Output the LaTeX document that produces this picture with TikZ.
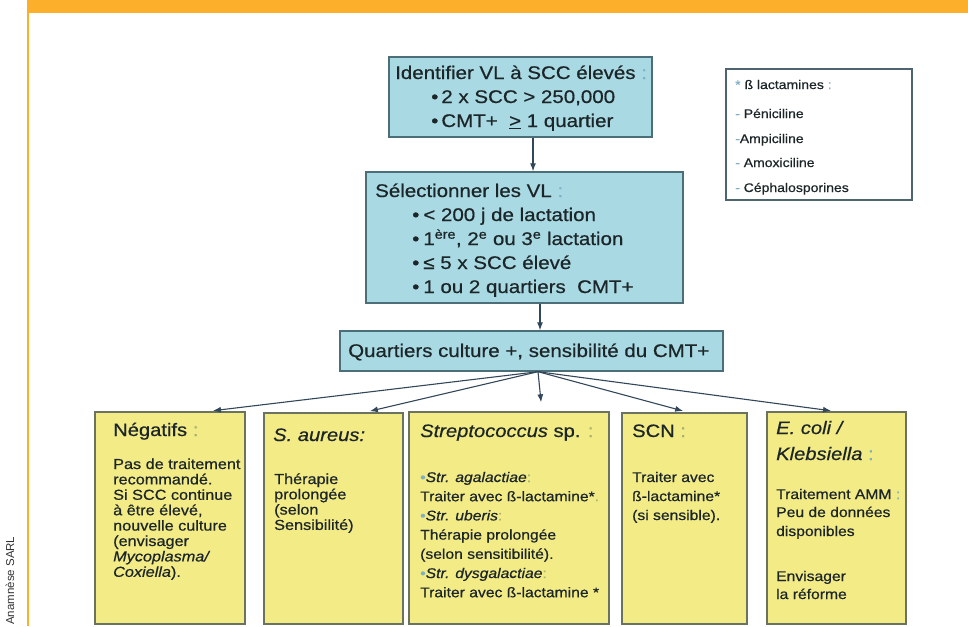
\documentclass[tikz,border=0pt]{standalone}
\usepackage{fontspec}
\setmainfont{Liberation Sans}[FakeStretch=1.12,FakeBold=0.6]
\newfontfamily\creditfont{Liberation Sans}
\usetikzlibrary{arrows.meta}
\definecolor{banner}{HTML}{FBAF2A}
\definecolor{bluefill}{HTML}{A9D9E3}
\definecolor{bluebd}{HTML}{4C6E78}
\definecolor{yelfill}{HTML}{F3EB86}
\definecolor{yelbd}{HTML}{6A7260}
\definecolor{sidebd}{HTML}{4E6470}
\definecolor{ink}{HTML}{1C2628}
\definecolor{lightb}{HTML}{7FAFC4}
\definecolor{lighty}{HTML}{A8B070}
\definecolor{arrc}{HTML}{33475A}
\definecolor{creditc}{HTML}{333333}
\newcommand\mkbox[6]{%
  \pgfmathsetmacro\bw{#5-#3}\pgfmathsetmacro\bh{#6-#4}%
  \pgfmathsetmacro\bx{(#3+#5)/2}\pgfmathsetmacro\by{(#4+#6)/2}%
  \node[#2, minimum width=\bw pt, minimum height=\bh pt, inner sep=0pt] (#1) at (\bx,\by) {};}
\newcommand\stack[6]{%
  \foreach \txt [count=\i] in {#6}{%
    \pgfmathsetmacro\yy{#4+(\i-1)*(#5)}%
    \node[#2, anchor=base west] (#1\i) at (#3,\yy) {\txt};}}
\begin{document}
\begin{tikzpicture}[x=1pt,y=-1pt,
  bluebox/.style={draw=bluebd, fill=bluefill, line width=1.4pt},
  yelbox/.style={draw=yelbd, fill=yelfill, line width=1.4pt},
  sidebox/.style={draw=sidebd, fill=white, line width=1.4pt},
  arr/.style={draw=arrc, line width=1.1pt, -{Latex[length=8pt,width=6pt]}},
  big/.style={inner sep=0pt, text=ink, font=\fontsize{18.3}{22}\selectfont},
  head/.style={inner sep=0pt, text=ink, font=\fontsize{18}{22}\selectfont},
  body/.style={inner sep=0pt, text=ink, font=\fontsize{14}{17}\selectfont},
  bodyb/.style={inner sep=0pt, text=ink, font=\fontsize{14.5}{17}\selectfont},
  small/.style={inner sep=0pt, text=ink, font=\fontsize{12.5}{14}\selectfont},
]
\useasboundingbox (0,0) rectangle (968,626);
\fill[banner] (28,0) rectangle (968,13);
\draw[banner, line width=1.5pt] (28,0) -- (28,626);

\node[rotate=90, anchor=base west, inner sep=0pt, text=creditc,
  font=\creditfont\fontsize{11.5}{13}\selectfont] (credit) at (14,625) {Anamnèse SARL};

% boxes
\mkbox{top}{bluebox}{389}{57}{652}{137}
\mkbox{sel}{bluebox}{366}{172}{683}{303}
\mkbox{quart}{bluebox}{340}{331}{723}{371}
\mkbox{side}{sidebox}{726}{69}{912}{200}
\mkbox{b1}{yelbox}{95}{412}{245}{624}
\mkbox{b2}{yelbox}{264}{413}{403}{624}
\mkbox{b3}{yelbox}{409}{412}{609}{624}
\mkbox{b4}{yelbox}{622}{413}{747}{624}
\mkbox{b5}{yelbox}{767}{412}{906}{624}

% top box text
\node[big, anchor=base west] (t1) at (395,79) {Identifier VL à SCC élevés {\color{lightb}:}};
\node[big, anchor=base west] (t2) at (431,103) {•\hspace{3pt}2 x SCC > 250,000};
\node[big, anchor=base west] (t3) at (431,127) {•\hspace{3pt}CMT+\ \ \underline{>} 1 quartier};

% selection box text
\node[big, anchor=base west] (s1) at (375,197) {Sélectionner les VL {\color{lightb}:}};
\node[big, anchor=base west] (s2) at (412,221) {•\hspace{4pt}< 200 j de lactation};
\node[big, anchor=base west] (s3) at (412,245) {•\hspace{4pt}1\textsuperscript{ère}, 2\textsuperscript{e} ou 3\textsuperscript{e} lactation};
\node[big, anchor=base west] (s4) at (412,269) {•\hspace{4pt}≤ 5 x SCC élevé};
\node[big, anchor=base west] (s5) at (412,293) {•\hspace{4pt}1 ou 2 quartiers\ \ CMT+};

% quartiers box
\node[big, anchor=base west] (q1) at (348,357) {Quartiers culture +, sensibilité du CMT+};

% side box
\node[small, anchor=base west] (l0) at (735,89) {{\color{lightb}*} ß lactamines {\color{lightb}:}};
\node[small, anchor=base west] (l1) at (735,118) {{\color{lightb}-} Péniciline};
\node[small, anchor=base west] (l2) at (735,143) {{\color{lightb}-}Ampiciline};
\node[small, anchor=base west] (l3) at (735,167) {{\color{lightb}-} Amoxiciline};
\node[small, anchor=base west] (l4) at (735,192) {{\color{lightb}-} Céphalosporines};

% box 1
\node[head, anchor=base west] (h1) at (113,436) {Négatifs {\color{lighty}:}};
\stack{ba}{bodyb}{113}{469}{15.4}{{Pas de traitement},{recommandé.},{Si SCC continue},{à être élevé,},{nouvelle culture},{(envisager},{\textit{Mycoplasma/}},{\textit{Coxiella}).}}

% box 2
\node[head, anchor=base west] (h2) at (273,441) {\textit{S. aureus:}};
\stack{bb}{bodyb}{274}{484}{15.3}{{Thérapie},{prolongée},{(selon},{Sensibilité)}}

% box 3
\node[head, anchor=base west] (h3) at (420,437) {\textit{Streptococcus} sp. {\color{lighty}:}};
\stack{bc}{body}{420}{482}{19.2}{{{\color{lightb}•}\textit{Str. agalactiae}{\color{lighty}:}},{Traiter avec ß-lactamine*{\color{lighty}.}},{{\color{lightb}•}\textit{Str. uberis}{\color{lighty}:}},{Thérapie prolongée},{(selon sensitibilité).},{{\color{lightb}•}\textit{Str. dysgalactiae}{\color{lighty}:}},{Traiter avec ß-lactamine *}}

% box 4
\node[head, anchor=base west] (h4) at (632,437) {SCN {\color{lighty}:}};
\stack{bd}{body}{632}{482}{19}{{Traiter avec},{ß-lactamine*},{(si sensible).}}

% box 5
\node[head, anchor=base west] (h5a) at (776,434) {\textit{E. coli /}};
\node[head, anchor=base west] (h5b) at (776,460) {\textit{Klebsiella} {\color{lightb}:}};
\node[body, anchor=base west] (be1) at (776,499) {Traitement AMM {\color{lightb}:}};
\node[body, anchor=base west] (be2) at (776,517) {Peu de données};
\node[body, anchor=base west] (be3) at (776,536) {disponibles};
\node[body, anchor=base west] (be4) at (776,581) {Envisager};
\node[body, anchor=base west] (be5) at (776,599) {la réforme};

% connectors
\coordinate (ax1) at (533,0);
\coordinate (ax2) at (540,0);
\coordinate (ax3) at (538,0);
\coordinate (k1) at (208,0);
\coordinate (k2) at (365,0);
\coordinate (k3) at (542,0);
\coordinate (k4) at (688,0);
\coordinate (k5) at (835,0);
\draw[arr] (top.south -| ax1) -- (sel.north -| ax1);
\draw[arr] (sel.south -| ax2) -- (quart.north -| ax2);
\draw[arr, shorten >=5pt] (quart.south -| ax3) -- (b1.north -| k1);
\draw[arr, shorten >=5pt] (quart.south -| ax3) -- (b2.north -| k2);
\draw[arr, shorten >=9pt] (quart.south -| ax3) -- (b3.north -| k3);
\draw[arr, shorten >=5pt] (quart.south -| ax3) -- (b4.north -| k4);
\draw[arr, shorten >=4pt] (quart.south -| ax3) -- (b5.north -| k5);
\end{tikzpicture}
\end{document}
